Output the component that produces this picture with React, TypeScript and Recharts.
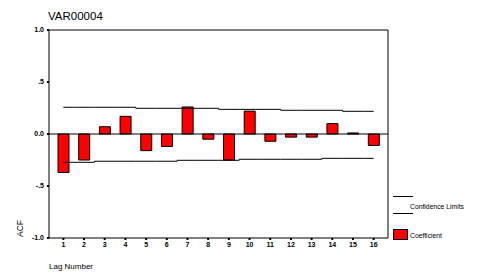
import { Bar, ComposedChart, Line, ReferenceLine, XAxis, YAxis } from "recharts";

const lags = ["1", "2", "3", "4", "5", "6", "7", "8", "9", "10", "11", "12", "13", "14", "15", "16"];
const coefficient = [-0.37, -0.25, 0.07, 0.17, -0.16, -0.12, 0.26, -0.05, -0.25, 0.22, -0.07, -0.03, -0.03, 0.1, 0.01, -0.11];
const upperLimit = [0.257, 0.257, 0.257, 0.257, 0.247, 0.247, 0.247, 0.247, 0.237, 0.237, 0.237, 0.228, 0.228, 0.228, 0.218, 0.218];
const lowerLimit = [-0.272, -0.272, -0.262, -0.262, -0.262, -0.262, -0.253, -0.253, -0.253, -0.243, -0.243, -0.243, -0.243, -0.234, -0.234, -0.234];
const yTicks = [-1, -0.5, 0, 0.5, 1];
const yTickLabels = ["-1.0", "-.5", "0.0", ".5", "1.0"];

const data = lags.map((lag, i) => ({
  lag,
  coefficient: coefficient[i],
  upper: upperLimit[i],
  lower: lowerLimit[i],
}));

const font = "'Liberation Sans', Arial, sans-serif";
const tick = { fontSize: 7, fill: "#000", fontFamily: font, fontWeight: 700 };

export default function App() {
  return (
    <div style={{ position: "absolute", left: 0, top: 0, width: 480, height: 275, background: "#fff" }}>
      <ComposedChart width={480} height={275} data={data} margin={{ top: 29, right: 91, bottom: 0, left: 19 }}>
        <XAxis
          dataKey="lag"
          height={37}
          padding={{ left: 4, right: 4 }}
          tick={tick}
          tickSize={2}
          tickMargin={2}
          axisLine={{ stroke: "#000" }}
          tickLine={{ stroke: "#000", strokeWidth: 2 }}
          interval={0}
        />
        <XAxis xAxisId="top" dataKey="lag" orientation="top" height={1} tick={false} tickLine={false} axisLine={{ stroke: "#000" }} />
        <YAxis
          domain={[-1, 1]}
          ticks={yTicks}
          width={30}
          tick={tick}
          tickSize={2}
          tickMargin={3}
          tickFormatter={(v) => yTickLabels[yTicks.indexOf(Number(v))]}
          axisLine={{ stroke: "#000" }}
          tickLine={{ stroke: "#000", strokeWidth: 2 }}
        />
        <YAxis yAxisId="right" orientation="right" width={1} domain={[-1, 1]} tick={false} tickLine={false} axisLine={{ stroke: "#000" }} />
        <ReferenceLine y={0} stroke="#000" />
        <Bar dataKey="coefficient" fill="#FF0000" stroke="#000" strokeWidth={1} barSize={11} isAnimationActive={false} />
        <Line type="step" dataKey="upper" stroke="#000" strokeWidth={1} dot={false} isAnimationActive={false} />
        <Line type="step" dataKey="lower" stroke="#000" strokeWidth={1} dot={false} isAnimationActive={false} />
      </ComposedChart>
      <svg width={480} height={275} style={{ position: "absolute", left: 0, top: 0, pointerEvents: "none" }} fontFamily={font}>
        <text x={48} y={20} fontSize={11.5}>VAR00004</text>
        <text x={49} y={269} fontSize={8}>Lag Number</text>
        <text x={23} y={237} fontSize={8.5} transform="rotate(-90 23 237)">ACF</text>
        <line x1={393} x2={413} y1={196.5} y2={196.5} stroke="#000" />
        <line x1={393} x2={413} y1={213.5} y2={213.5} stroke="#000" />
        <text x={410} y={209} fontSize={6.8}>Confidence Limits</text>
        <rect x={393.5} y={229.5} width={14} height={10} fill="#FF0000" stroke="#000" />
        <text x={410} y={237.5} fontSize={6.8}>Coefficient</text>
      </svg>
    </div>
  );
}
